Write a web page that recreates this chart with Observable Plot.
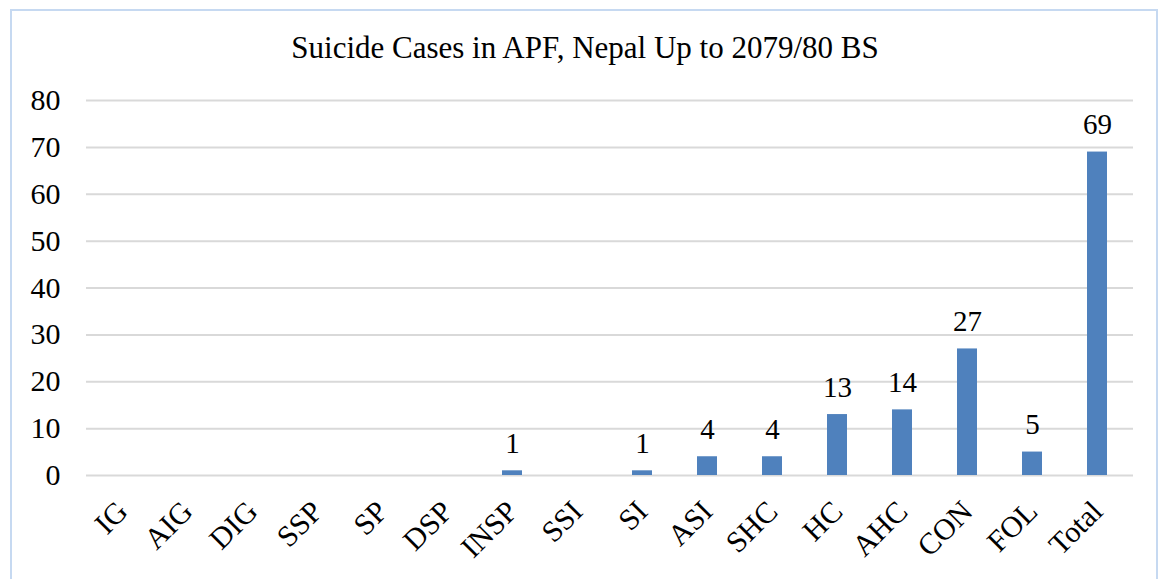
<!DOCTYPE html>
<html><head><meta charset="utf-8">
<script src="https://cdn.jsdelivr.net/npm/d3@7"></script>
<script src="https://cdn.jsdelivr.net/npm/@observablehq/plot@0.6"></script>
<style>
body{margin:0;background:#fff;}
#wrap{position:relative;width:1162px;height:579px;overflow:hidden;font-family:"Liberation Serif","Times New Roman",serif;}
#border{position:absolute;left:10px;top:9px;right:4px;bottom:-10px;border:2px solid #c6d9f1;}
#title{position:absolute;top:30px;left:0;width:1170px;text-align:center;font-size:31px;color:#000;}
#chart{position:absolute;left:0;top:80px;}
</style></head>
<body><div id="wrap"><div id="border"></div><div id="title">Suicide Cases in APF, Nepal Up to 2079/80 BS</div><div id="chart"></div></div>
<script>
const ranks = ["IG","AIG","DIG","SSP","SP","DSP","INSP","SSI","SI","ASI","SHC","HC","AHC","CON","FOL","Total"];
const cases = [0,0,0,0,0,0,1,0,1,4,4,13,14,27,5,69];
const yTicks = [0,10,20,30,40,50,60,70,80];
const data = ranks.map((r,i)=>({rank:r, value:cases[i]}));
const chart = Plot.plot({
  width:1162, height:499,
  marginLeft:86, marginRight:29, marginTop:20, marginBottom:104,
  style:{fontFamily:'"Liberation Serif","Times New Roman",serif', fontSize:"30px", color:"#000", background:"transparent"},
  x:{domain:ranks, paddingInner:0.69, paddingOuter:0.345, label:null},
  y:{domain:[0,80], label:null},
  marks:[
    Plot.gridY(yTicks,{stroke:"#d9d9d9", strokeOpacity:1, strokeWidth:2}),
    Plot.barY(data,{x:"rank", y:"value", fill:"#4f81bd"}),
    Plot.text(data.filter(d=>d.value>0),{x:"rank", y:"value", text:d=>String(d.value), dy:-18, lineAnchor:"bottom", fontSize:29, fill:"#000"}),
    Plot.axisY(yTicks,{tickSize:0, tickPadding:26, label:null}),
    Plot.axisX({tickSize:0, tickRotate:-45, tickPadding:31, label:null})
  ]
});
document.getElementById("chart").appendChild(chart);
</script></body></html>
